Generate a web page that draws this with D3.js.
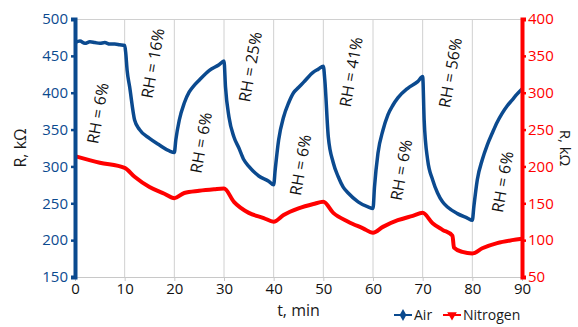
<!DOCTYPE html>
<html>
<head>
<meta charset="utf-8">
<script src="https://cdn.jsdelivr.net/npm/d3@7"></script>
<style>
  body { margin: 0; background: #fff; }
  svg text { font-family: "Open Sans", "Noto Sans", sans-serif; }
</style>
</head>
<body>
<svg id="chart" width="578" height="327"></svg>
<script>
// time, min
const airT = [0, 1, 2, 3, 4, 5, 6, 7, 8, 9, 10, 10.2, 10.5, 11, 12, 13, 15, 17, 19, 20,
  20.3, 21, 22, 23, 24, 25, 27, 29, 30,
  30.3, 31, 32, 33, 34, 35, 37, 39, 40,
  40.3, 41, 42, 43, 44, 45, 46, 48, 49, 50,
  50.3, 51, 52, 53, 54, 55, 57, 59, 60,
  60.3, 61, 62, 63, 64, 65, 67, 69, 70,
  70.3, 71, 72, 73, 74, 75, 77, 79, 80,
  80.3, 81, 82, 83, 84, 85, 86, 87, 88, 89, 90];
const airR = [468, 470, 467, 469, 468, 467, 468, 466, 466, 465, 464, 455, 430, 408, 363, 350, 338, 329, 321, 319,
  336, 363, 386, 401, 410, 417, 430, 438, 443,
  408, 367, 340, 325, 309, 300, 287, 280, 275,
  295, 336, 367, 386, 400, 407, 414, 428, 432, 436,
  417, 340, 305, 286, 272, 264, 252, 245, 243,
  272, 318, 349, 370, 383, 393, 406, 415, 422,
  363, 309, 282, 264, 252, 245, 236, 230, 227,
  245, 282, 309, 329, 345, 360, 372, 382, 390, 398, 405];

const n2T = [0, 5, 10, 12, 15, 18, 20, 22, 25, 28, 30, 32, 35, 38, 40, 42, 45, 48, 50,
  52, 55, 58, 60, 62, 65, 68, 70, 72, 74, 76, 76.3, 78, 80, 82, 85, 88, 90];
const n2R = [214, 205, 198, 186, 172, 163, 157, 164, 167, 169, 170, 152, 137, 130, 125, 134, 143, 149, 152,
  137, 125, 116, 110, 118, 127, 133, 137, 123, 114, 106, 90, 84, 82, 89, 96, 100, 102];

const xTicks = [0, 10, 20, 30, 40, 50, 60, 70, 80, 90];
const leftTicks = [150, 200, 250, 300, 350, 400, 450, 500];
const rightTicks = [50, 100, 150, 200, 250, 300, 350, 400];

const rhText = ["RH = 6%", "RH = 16%", "RH = 6%", "RH = 25%", "RH = 6%", "RH = 41%", "RH = 6%", "RH = 56%", "RH = 6%"];
const rhT = [4.6, 15.7, 25.4, 35.3, 45.4, 55.6, 65.7, 75.6, 86.1];
const rhR = [372, 440, 332, 435, 302, 428, 295, 427, 279];

const seriesNames = ["Air", "Nitrogen"];

const blue = "#0b4a8f", red = "#ff0000";
const svg = d3.select("#chart");
const m = { left: 75, right: 56, top: 19, bottom: 50 };
const W = 578, H = 327;

const x = d3.scaleLinear().domain([0, 90]).range([m.left, W - m.right]);
const yL = d3.scaleLinear().domain([150, 500]).range([H - m.bottom, m.top]);
const yR = d3.scaleLinear().domain([50, 400]).range([H - m.bottom, m.top]);

// сетка
svg.append("g").selectAll("line").data(xTicks.slice(1, -1)).join("line")
  .attr("x1", d => x(d)).attr("x2", d => x(d))
  .attr("y1", m.top).attr("y2", H - m.bottom)
  .attr("stroke", "#d0d0d0").attr("stroke-width", 1);
svg.append("line").attr("x1", m.left).attr("x2", W - m.right)
  .attr("y1", m.top + 0.5).attr("y2", m.top + 0.5).attr("stroke", "#d0d0d0");

// ось X
const gx = svg.append("g").attr("transform", `translate(0,${H - m.bottom})`)
  .call(d3.axisBottom(x).tickValues(xTicks).tickSize(4).tickPadding(2));
gx.select(".domain").attr("stroke", "#c8c8c8");
gx.selectAll(".tick line").attr("stroke", "#c8c8c8");
gx.selectAll("text").attr("font-size", 15).attr("fill", "#111");

// линии
const airData = airT.map((t, i) => [t, airR[i]]);
const n2Data = n2T.map((t, i) => [t, n2R[i]]);

svg.append("path").datum(n2Data)
  .attr("fill", "none").attr("stroke", red).attr("stroke-width", 4)
  .attr("stroke-linejoin", "round")
  .attr("d", d3.line().x(d => x(d[0])).y(d => yR(d[1])).curve(d3.curveMonotoneX));

svg.append("path").datum(airData)
  .attr("fill", "none").attr("stroke", blue).attr("stroke-width", 3.5)
  .attr("stroke-linejoin", "round")
  .attr("d", d3.line().x(d => x(d[0])).y(d => yL(d[1])).curve(d3.curveMonotoneX));

// левая ось
const gl = svg.append("g").attr("transform", `translate(${m.left},0)`)
  .call(d3.axisLeft(yL).tickValues(leftTicks).tickSize(4).tickPadding(3));
gl.select(".domain").attr("stroke", blue).attr("stroke-width", 4);
gl.selectAll(".tick line").attr("stroke", blue).attr("stroke-width", 2.5);
gl.selectAll("text").attr("font-size", 15).attr("fill", blue);

// правая ось
const gr = svg.append("g").attr("transform", `translate(${W - m.right},0)`)
  .call(d3.axisRight(yR).tickValues(rightTicks).tickSize(4).tickPadding(2));
gr.select(".domain").attr("stroke", red).attr("stroke-width", 4);
gr.selectAll(".tick line").attr("stroke", red).attr("stroke-width", 2.5);
gr.selectAll("text").attr("font-size", 15).attr("fill", red);

// подписи осей
svg.append("text").attr("transform", `translate(26,${(m.top + H - m.bottom) / 2}) rotate(-90)`)
  .attr("text-anchor", "middle").attr("font-size", 16).attr("fill", "#1a1a1a").text("R, kΩ");
svg.append("text").attr("transform", `translate(560,${(m.top + H - m.bottom) / 2}) rotate(90)`)
  .attr("text-anchor", "middle").attr("font-size", 15).attr("fill", "#1a1a1a").text("R, kΩ");
svg.append("text").attr("x", (m.left + W - m.right) / 2).attr("y", 316)
  .attr("text-anchor", "middle").attr("font-size", 16).attr("fill", "#1a1a1a").text("t, min");

// аннотации RH
svg.append("g").selectAll("text").data(rhText).join("text")
  .attr("transform", (d, i) => `translate(${x(rhT[i])},${yL(rhR[i])}) rotate(-80)`)
  .attr("text-anchor", "middle").attr("dy", "0.35em")
  .attr("font-size", 16).attr("fill", "#111")
  .text(d => d);

// легенда
const leg = svg.append("g").attr("transform", "translate(394,315)");
const colors = [blue, red];
const legX = [0, 49];
seriesNames.forEach((name, i) => {
  const g = leg.append("g").attr("transform", `translate(${legX[i]},0)`);
  g.append("line").attr("x1", 0).attr("x2", 18).attr("y1", 0).attr("y2", 0)
    .attr("stroke", colors[i]).attr("stroke-width", 2);
  g.append("path")
    .attr("d", d3.symbol().type(i === 0 ? d3.symbolDiamond : d3.symbolTriangle).size(40)())
    .attr("fill", colors[i])
    .attr("transform", i === 0 ? "translate(9,0)" : "translate(9,0) rotate(180)");
  g.append("text").attr("x", 20).attr("dy", "0.35em").attr("font-size", 14)
    .attr("fill", "#1a1a1a").text(name);
});
</script>
</body>
</html>
